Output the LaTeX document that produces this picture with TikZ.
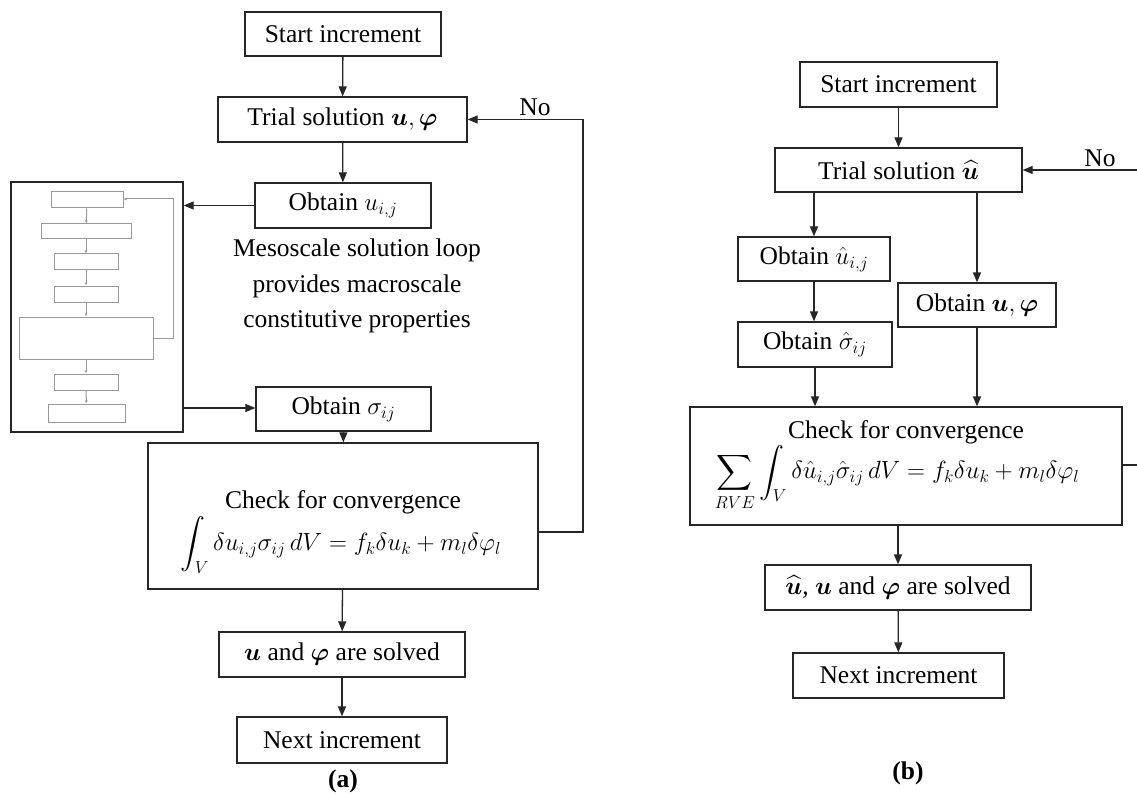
\documentclass[tikz,border=0pt]{standalone}
\usepackage{amsmath,bm}
\usepackage{fontspec}
\setmainfont{Liberation Serif}
\usetikzlibrary{arrows.meta}
\newcommand\bigfs{\fontsize{25.5}{30}\selectfont}
\newcommand\eqfs{\fontsize{27}{32}\selectfont}
\newcommand\mesofs{\fontsize{25.5}{35.5}\selectfont}
\begin{document}
\begin{tikzpicture}[x=1pt,y=-1pt,
  box/.style={draw=black!85, line width=1.3pt, inner sep=0pt, font=\bigfs},
  txt/.style={inner sep=0pt, font=\bigfs},
  eq/.style={inner sep=0pt, font=\eqfs},
  arr/.style={-{Triangle[length=10pt,width=8pt]}, line width=1.3pt, draw=black!85},
  gbox/.style={draw=black!40, line width=1pt, inner sep=0pt},
  garr/.style={-{Latex[length=3pt,width=3pt]}, draw=black!40, line width=1pt},
  lab/.style={inner sep=0pt, font=\bigfs\bfseries}]
\clip (0,0) rectangle (1137,794);
\fill[white] (0,0) rectangle (1137,794);
% ---------------- (a) ----------------
\node[box, minimum width=196pt, minimum height=44pt] (sa) at (343,34) {Start increment};
\node[box, minimum width=249pt, minimum height=45pt] (ta) at (342.5,119.5) {Trial solution $\bm{u},\bm{\varphi}$};
\node[box, minimum width=176pt, minimum height=45pt] (ua) at (343,205.5) {Obtain $u_{i,j}$};
\node[box, minimum width=175pt, minimum height=44pt] (sia) at (343.5,409) {Obtain $\sigma_{ij}$};
\node[box, minimum width=390pt, minimum height=146pt] (ca) at (343,516) {};
\node[txt] (cat) at (343,502) {Check for convergence};
\node[eq] (cae) at (341,545) {$\displaystyle\int_V \delta u_{i,j}\sigma_{ij}\,dV = f_k\delta u_k + m_l\delta\varphi_l$};
\node[box, minimum width=246pt, minimum height=45pt] (soa) at (342,654.5) {$\bm{u}$ and $\bm{\varphi}$ are solved};
\node[box, minimum width=210pt, minimum height=46pt] (na) at (342,740) {Next increment};
\node[lab] (la) at (343,781) {(a)};
\node[txt, font=\mesofs, align=center] (meso) at (357,286) {Mesoscale solution loop\\provides macroscale\\constitutive properties};
\node[txt] (noa) at (535,107) {No};
% left mesoscale box
\node[draw=black!85, line width=1.3pt, minimum width=172pt, minimum height=250pt, inner sep=0pt] (lb) at (97,307) {};
\node[gbox, minimum width=72pt, minimum height=16pt] (g1) at (87,200) {};
\node[gbox, minimum width=90pt, minimum height=15pt] (g2) at (86,231.5) {};
\node[gbox, minimum width=64pt, minimum height=16pt] (g3) at (86,262) {};
\node[gbox, minimum width=64pt, minimum height=16pt] (g4) at (86,294) {};
\node[gbox, minimum width=134pt, minimum height=42pt] (g5) at (86,338) {};
\node[gbox, minimum width=64pt, minimum height=16pt] (g6) at (86,382) {};
\node[gbox, minimum width=77pt, minimum height=18pt] (g7) at (86.5,413) {};
\draw[garr] (g1) -- (g2);
\draw[garr] (g2) -- (g3);
\draw[garr] (g3) -- (g4);
\draw[garr] (g4) -- (g5);
\draw[garr] (g5) -- (g6);
\draw[garr] (g6) -- (g7);
\coordinate (gl) at (173,199);
\draw[garr] (g5.east) -- (g5.east -| gl) -- (gl) -- (gl -| g1.east);
% connectors (a)
\draw[arr] (sa) -- (ta);
\draw[arr] (ta) -- (ua);
\draw[arr] (ua.west) -- (ua.west -| lb.east);
\coordinate (lo) at (183,408);
\draw[arr] (lo) -- (lo -| sia.west);
\draw[arr] (sia) -- (ca);
\draw[arr] (ca) -- (soa);
\draw[arr] (soa) -- (na);
\coordinate (ra) at (583,532);
\draw[arr] (ra -| ca.east) -- (ra) -- (ra |- ta.east) -- (ta.east);
% ---------------- (b) ----------------
\node[box, minimum width=197pt, minimum height=45pt] (sb) at (898.5,84.5) {Start increment};
\node[box, minimum width=247pt, minimum height=44pt] (tb) at (898.5,170) {Trial solution $\widehat{\bm{u}}$};
\node[box, minimum width=152pt, minimum height=44pt] (ub) at (814,259) {Obtain $\hat{u}_{i,j}$};
\node[box, minimum width=158pt, minimum height=44pt] (pb) at (977,305) {Obtain $\bm{u},\bm{\varphi}$};
\node[box, minimum width=154pt, minimum height=45pt] (sgb) at (815,344.5) {Obtain $\hat{\sigma}_{ij}$};
\node[box, minimum width=432pt, minimum height=118pt] (cb) at (906,466) {};
\node[txt] (cbt) at (906,432) {Check for convergence};
\node[eq] (cbe) at (897,478) {$\displaystyle\sum_{RVE}\int_V \delta\hat{u}_{i,j}\hat{\sigma}_{ij}\,dV = f_k\delta u_k + m_l\delta\varphi_l$};
\node[box, minimum width=266pt, minimum height=45pt] (sob) at (898,587.5) {$\widehat{\bm{u}}$, $\bm{u}$ and $\bm{\varphi}$ are solved};
\node[box, minimum width=211pt, minimum height=45pt] (nb) at (898.5,675.5) {Next increment};
\node[lab] (lbb) at (908,773) {(b)};
\node[txt] (nob) at (1100,158) {No};
% connectors (b)
\draw[arr] (sb) -- (tb);
\draw[arr] (ub.north |- tb.south) -- (ub.north);
\draw[arr] (pb.north |- tb.south) -- (pb.north);
\draw[arr] (ub) -- (ub |- sgb.north);
\draw[arr] (sgb.south) -- (sgb.south |- cb.north);
\draw[arr] (pb.south) -- (pb.south |- cb.north);
\draw[arr] (sob.north |- cb.south) -- (sob.north);
\draw[arr] (sob) -- (nb);
\coordinate (rb) at (1146,465);
\draw[arr] (rb -| cb.east) -- (rb) -- (rb |- tb.east) -- (tb.east);
\end{tikzpicture}
\end{document}
